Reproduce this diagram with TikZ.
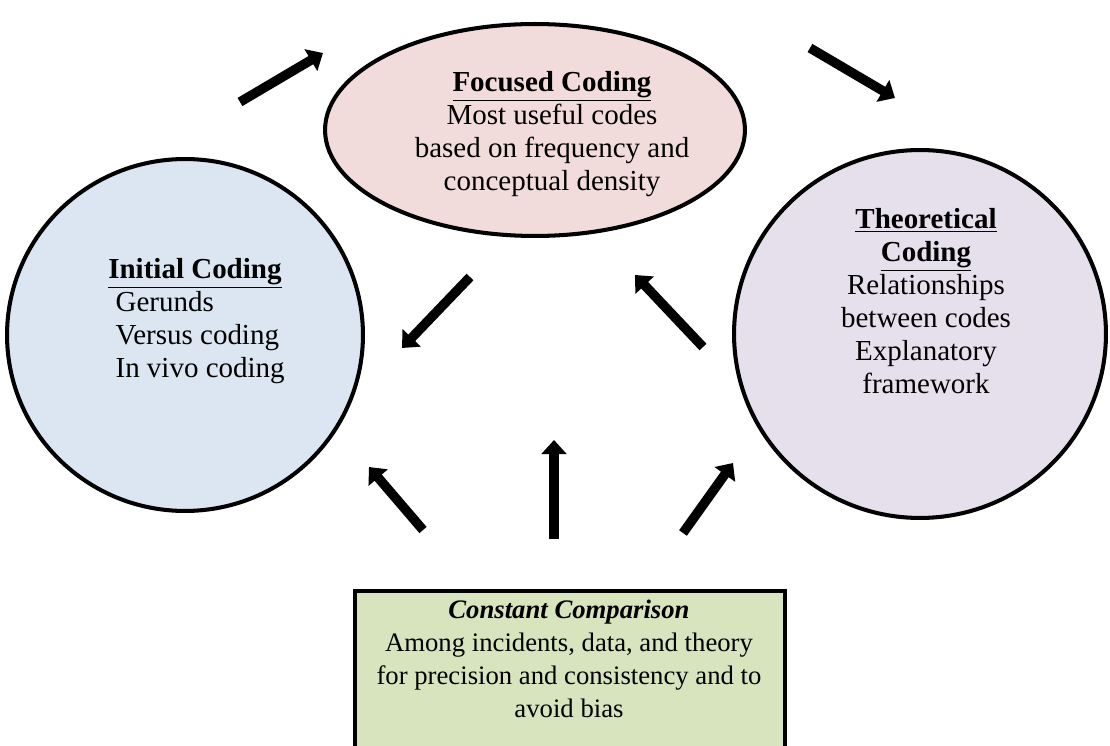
\documentclass[tikz,border=0pt]{standalone}
\usepackage{fontspec}
\setmainfont{Liberation Serif}
\usetikzlibrary{positioning}
\usetikzlibrary{shapes.geometric}
\usetikzlibrary{arrows.meta}
\definecolor{initblue}{HTML}{DCE6F2}
\definecolor{focuspink}{HTML}{F2DCDB}
\definecolor{theolilac}{HTML}{E5E0EC}
\definecolor{compgreen}{HTML}{D7E4BD}

\begin{document}
\begin{tikzpicture}[x=0.02cm, y=-0.02cm,
				bubble/.style={ellipse, draw=black, line width=2.3pt, inner sep=0pt},
				compbox/.style={rectangle, draw=black, line width=2.3pt, inner sep=0pt},
				label/.style={align=center, inner sep=0pt, font=\fontsize{16.5}{18.8}\selectfont},
				bigarrow/.style={line width=5.4pt, -{Triangle[width=14pt,length=8pt]}},
				]
				\useasboundingbox (0,0) rectangle (1110,746);
				\clip (0,0) rectangle (1110,746);
				%Nodes
				\node[bubble, fill=initblue, minimum width=7.12cm, minimum height=7.04cm]     (init)    at (185,335) {};
				\node[bubble, fill=focuspink, minimum width=8.4cm, minimum height=4.24cm]     (focus)   at (535,130) {};
				\node[bubble, fill=theolilac, minimum width=7.44cm, minimum height=7.36cm]    (theo)    at (920,334) {};
				\node[compbox, fill=compgreen, minimum width=8.6cm, minimum height=3.6cm, anchor=north] (comp) at (570,589) {};
				
				%Texts
				\node[label, align=left, anchor=west] (init-txt)  at (108,321)
					{\underline{\textbf{Initial Coding}}\\\ Gerunds\\\ Versus coding\\\ In vivo coding};
				\node[label] (focus-txt) at (552,134)
					{\underline{\textbf{Focused Coding}}\\Most useful codes\\based on frequency and\\conceptual density};
				\node[label] (theo-txt)  at (926,301)
					{\underline{\textbf{Theoretical}}\\\underline{\textbf{Coding}}\\Relationships\\between codes\\Explanatory\\framework};
				\node[label, font=\fontsize{15.2}{18.8}\selectfont] (comp-txt)  at (569,659)
					{\textbf{\textit{Constant Comparison}}\\Among incidents, data, and theory\\for precision and consistency and to\\avoid bias};
				
				%Arrow ends
				\coordinate (i2f-a) at (240,102);
				\coordinate (i2f-b) at (323,53);
				\coordinate (f2t-a) at (810,48);
				\coordinate (f2t-b) at (895,98);
				\coordinate (f2i-a) at (470,277);
				\coordinate (f2i-b) at (402,348);
				\coordinate (t2f-a) at (703,347);
				\coordinate (t2f-b) at (635,275);
				\coordinate (c2i-a) at (423,530);
				\coordinate (c2i-b) at (369,467);
				\coordinate (c2f-a) at (554,539);
				\coordinate (c2f-b) at (554,440);
				\coordinate (c2t-a) at (683,533);
				\coordinate (c2t-b) at (733,463);
				
				%Lines
				\draw[bigarrow] (i2f-a) -- (i2f-b);
				\draw[bigarrow] (f2t-a) -- (f2t-b);
				\draw[bigarrow] (f2i-a) -- (f2i-b);
				\draw[bigarrow] (t2f-a) -- (t2f-b);
				\draw[bigarrow] (c2i-a) -- (c2i-b);
				\draw[bigarrow] (c2f-a) -- (c2f-b);
				\draw[bigarrow] (c2t-a) -- (c2t-b);
\end{tikzpicture}
\end{document}
